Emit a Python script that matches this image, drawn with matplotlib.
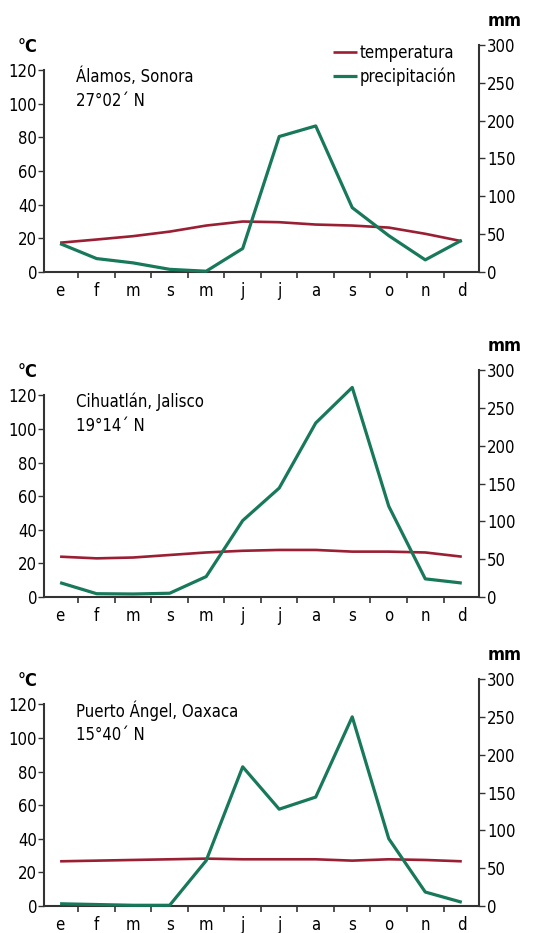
#!/usr/bin/env python3
import matplotlib
matplotlib.use("Agg")
import matplotlib.pyplot as plt

OUT_FILE = "out.png"

# Month initials (Spanish) shown along the x axis
months = ["e", "f", "m", "s", "m", "j", "j", "a", "s", "o", "n", "d"]

# Station names and latitudes
stations = ["Álamos, Sonora", "Cihuatlán, Jalisco", "Puerto Ángel, Oaxaca"]
latitudes = ["27°02´ N", "19°14´ N", "15°40´ N"]

# Monthly mean temperature (°C)
temp_alamos = [17.4, 19.3, 21.3, 24.0, 27.6, 30.0, 29.6, 28.2, 27.6, 26.4, 22.7, 18.3]
temp_cihuatlan = [24.0, 23.0, 23.5, 25.0, 26.5, 27.5, 28.0, 28.0, 27.0, 27.0, 26.5, 24.0]
temp_puerto = [26.6, 27.0, 27.4, 27.8, 28.2, 27.8, 27.8, 27.8, 27.0, 27.8, 27.4, 26.6]

# Monthly precipitation (mm)
prec_alamos = [37.5, 17.7, 12.0, 3.5, 1.0, 31.0, 179.0, 193.0, 85.0, 48.0, 16.0, 42.0]
prec_cihuatlan = [19.0, 4.4, 4.0, 5.0, 27.0, 101.0, 144.0, 230.0, 277.0, 120.0, 24.0, 18.5]
prec_puerto = [3.0, 2.0, 1.0, 1.0, 60.0, 184.0, 128.0, 144.0, 250.0, 89.0, 18.5, 5.0]

temps = [temp_alamos, temp_cihuatlan, temp_puerto]
precs = [prec_alamos, prec_cihuatlan, prec_puerto]

TEMP_TICKS = [0, 20, 40, 60, 80, 100, 120]
PREC_TICKS = [0, 50, 100, 150, 200, 250, 300]

RED = "#9a1f33"
GREEN = "#17795a"
AXIS = "#333333"

# narrow sans to get close to the condensed lettering of the original
plt.rcParams["font.family"] = ["DejaVu Sans"]
plt.rcParams["font.stretch"] = "condensed"
plt.rcParams["font.size"] = 12


def draw_panel(fig, bottom, idx, with_legend):
    """One climate chart: temperature on the left axis, rain on the right"""
    ax = fig.add_axes([0.0826, bottom, 0.816, 0.2433])
    ax2 = ax.twinx()

    x = list(range(len(months)))
    ax.plot(x, temps[idx], color=RED, linewidth=1.9, label="temperatura",
            solid_capstyle="butt", clip_on=False, zorder=3)
    ax2.plot(x, precs[idx], color=GREEN, linewidth=2.3, label="precipitación",
             solid_capstyle="butt", clip_on=False, zorder=4)

    ax.set_xlim(-0.44, 11.47)
    ax.set_ylim(0, 135)
    ax2.set_ylim(0, 300)

    # month labels centred, tick marks on the month boundaries
    ax.set_xticks(x)
    ax.set_xticklabels(months)
    ax.set_xticks([i + 0.5 for i in range(11)], minor=True)
    ax.tick_params(axis="x", which="major", length=0, pad=7)
    ax.tick_params(axis="x", which="minor", length=4, width=1.2, color=AXIS)

    ax.set_yticks(TEMP_TICKS)
    ax.tick_params(axis="y", length=4, width=1.0, color=AXIS, pad=1)
    ax2.set_yticks(PREC_TICKS)
    ax2.tick_params(axis="y", length=4, width=1.0, color=AXIS, pad=2)

    for a in (ax, ax2):
        a.spines["top"].set_visible(False)
        for s in ("left", "right", "bottom"):
            a.spines[s].set_color(AXIS)
            a.spines[s].set_linewidth(1.5)
    ax.spines["right"].set_visible(False)
    ax2.spines["left"].set_visible(False)
    ax2.spines["bottom"].set_visible(False)
    ax.spines["left"].set_bounds(0, 120)

    # axis unit labels
    ax.text(-0.039, 134, "°C", transform=ax.get_yaxis_transform(),
            ha="center", va="center", fontweight="bold", fontsize=13)
    ax2.text(1.06, 332, "mm", transform=ax2.get_yaxis_transform(),
             ha="center", va="center", fontweight="bold", fontsize=13)

    # station name and latitude
    ax.text(0.073, 0.86, stations[idx], transform=ax.transAxes,
            ha="left", va="center")
    ax.text(0.073, 0.752, latitudes[idx], transform=ax.transAxes,
            ha="left", va="center")

    if with_legend:
        h1, l1 = ax.get_legend_handles_labels()
        h2, l2 = ax2.get_legend_handles_labels()
        ax2.legend(h1 + h2, l1 + l2, loc="upper left",
                   bbox_to_anchor=(0.665, 1.003), frameon=False,
                   borderpad=0, borderaxespad=0, handlelength=1.45,
                   handletextpad=0.15, labelspacing=0.32)
    return ax


fig = plt.figure(figsize=(5.33, 9.33), dpi=100)
panel_bottoms = [0.7085, 0.3601, 0.0289]
for i, b in enumerate(panel_bottoms):
    draw_panel(fig, b, i, with_legend=(i == 0))

fig.savefig(OUT_FILE, dpi=100)
plt.close(fig)
